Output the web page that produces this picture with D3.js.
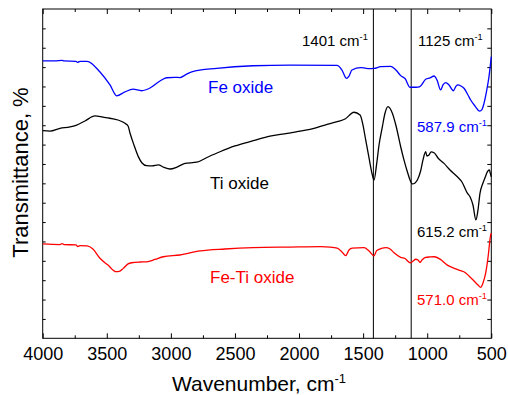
<!DOCTYPE html>
<html>
<head>
<meta charset="utf-8">
<script src="https://cdn.jsdelivr.net/npm/d3@7"></script>
<style>
  body { margin: 0; background: #fff; }
  text { font-family: "Liberation Sans", Arial, sans-serif; }
</style>
</head>
<body>
<svg id="chart" width="508" height="395"></svg>
<script>
// spectra: [wavenumber, transmittance (arb. units)]
const feOxide = [
  [4000, 14.32], [3904, 14.32], [3849, 14.35], [3834, 14.32], [3740, 14.30], [3728, 14.24],
  [3709, 14.30], [3654, 14.30], [3553, 13.75], [3475, 13.08], [3423, 12.52], [3358, 12.72],
  [3295, 12.86], [3228, 12.78], [3163, 12.92], [3085, 13.28], [3033, 13.45], [2968, 13.47],
  [2929, 13.46], [2890, 13.59], [2837, 13.76], [2642, 13.94], [2359, 14.07], [2071, 14.10],
  [1704, 14.09], [1665, 13.85], [1631, 13.42], [1610, 13.54], [1587, 13.85], [1519, 13.97],
  [1486, 13.95], [1454, 13.92], [1415, 13.93], [1363, 14.02], [1285, 14.04], [1244, 13.85],
  [1207, 13.56], [1173, 13.41], [1134, 12.96], [1103, 12.96], [1072, 12.97], [1051, 13.03],
  [1012, 13.37], [978, 13.44], [947, 13.54], [924, 13.34], [895, 12.82], [877, 13.08],
  [856, 13.20], [830, 13.08], [796, 12.78], [775, 13.02], [760, 13.08], [736, 13.02],
  [713, 12.91], [682, 12.56], [661, 12.30], [627, 11.99], [591, 11.73], [573, 11.81],
  [557, 12.13], [538, 12.72], [518, 13.51], [500, 14.54]
];
const tiOxide = [
  [4000, 10.72], [3943, 10.70], [3865, 10.84], [3787, 10.91], [3735, 11.01], [3670, 11.22],
  [3592, 11.48], [3530, 11.42], [3475, 11.36], [3413, 11.27], [3358, 11.10], [3334, 10.96],
  [3319, 10.60], [3288, 9.98], [3254, 9.38], [3225, 9.05], [3189, 8.91], [3147, 8.90],
  [3098, 8.95], [3054, 8.82], [3007, 8.74], [2952, 8.84], [2890, 9.03], [2798, 9.09],
  [2710, 9.36], [2617, 9.63], [2500, 9.93], [2357, 10.20], [2227, 10.44], [2092, 10.58],
  [1993, 10.70], [1883, 10.84], [1798, 11.01], [1702, 11.18], [1641, 11.32], [1571, 11.67],
  [1524, 11.53], [1501, 11.01], [1480, 10.24], [1454, 9.31], [1428, 8.43], [1415, 8.17],
  [1394, 9.03], [1376, 9.98], [1350, 10.92], [1329, 11.63], [1306, 11.96], [1272, 11.62],
  [1243, 10.96], [1207, 9.89], [1181, 9.20], [1155, 8.60], [1134, 8.17], [1116, 7.97],
  [1095, 8.02], [1077, 8.17], [1051, 8.65], [1033, 9.21], [1012, 9.63], [1002, 9.41],
  [986, 9.46], [970, 9.62], [947, 9.58], [916, 9.31], [869, 9.03], [822, 8.69],
  [765, 8.34], [729, 8.07], [687, 7.49], [666, 7.31], [643, 6.88], [620, 6.11],
  [604, 6.62], [588, 7.49], [565, 8.02], [546, 8.34], [531, 8.59], [515, 8.69],
  [508, 8.53], [500, 8.34]
];
const feTiOxide = [
  [4000, 4.87], [3865, 4.84], [3849, 4.89], [3834, 4.84], [3740, 4.82], [3728, 4.74],
  [3709, 4.78], [3654, 4.77], [3608, 4.61], [3553, 4.13], [3491, 3.78], [3428, 3.44],
  [3397, 3.47], [3371, 3.61], [3334, 3.84], [3306, 3.90], [3241, 3.94], [3189, 3.95],
  [3124, 4.07], [3059, 4.21], [2929, 4.30], [2773, 4.51], [2578, 4.61], [2357, 4.68],
  [2071, 4.71], [1831, 4.73], [1758, 4.71], [1702, 4.65], [1665, 4.46], [1636, 4.27],
  [1610, 4.56], [1585, 4.65], [1493, 4.68], [1454, 4.51], [1415, 4.26], [1396, 4.51],
  [1376, 4.59], [1324, 4.68], [1290, 4.61], [1259, 4.42], [1207, 4.18], [1173, 4.12],
  [1134, 3.90], [1110, 3.99], [1090, 4.08], [1072, 4.04], [1056, 3.92], [1041, 4.04],
  [1012, 4.18], [978, 4.20], [947, 4.21], [900, 4.09], [843, 3.78], [783, 3.60],
  [739, 3.49], [705, 3.40], [674, 3.22], [635, 2.96], [604, 2.75], [583, 2.63],
  [565, 2.85], [544, 3.36], [526, 4.15], [505, 5.33], [500, 5.44]
];

const xMajorTicks = [4000, 3500, 3000, 2500, 2000, 1500, 1000, 500];
const xMinorTicks = [3750, 3250, 2750, 2250, 1750, 1250, 750];
const yTicks = d3.range(1, 17);
const markerLines = [1420, 1125];
const markerLabels = ["1401", "1125"];
const seriesNames = ["Fe oxide", "Ti oxide", "Fe-Ti oxide"];
const peakLabels = ["587.9", "615.2", "571.0"];
const seriesColors = ["#0000ff", "#000000", "#ff0000"];

const svg = d3.select("#chart");
const margin = { left: 42.7, right: 16.7, top: 9, bottom: 56.7 };
const width = 508, height = 395;
const x = d3.scaleLinear().domain([4000, 500]).range([margin.left, width - margin.right]);
const y = d3.scaleLinear().domain([0, 17]).range([height - margin.bottom, margin.top]);

// axes (ticks inward)
const bottomMajor = d3.axisBottom(x).tickValues(xMajorTicks).tickSize(-5).tickPadding(9).tickFormat(d3.format("d"));
const bottomMinor = d3.axisBottom(x).tickValues(xMinorTicks).tickSize(-3).tickFormat("");
const topMajor = d3.axisTop(x).tickValues(xMajorTicks).tickSize(-5).tickFormat("");
const topMinor = d3.axisTop(x).tickValues(xMinorTicks).tickSize(-3).tickFormat("");
const leftAxis = d3.axisLeft(y).tickValues(yTicks).tickSize(-3).tickFormat("");
const rightAxis = d3.axisRight(y).tickValues(yTicks).tickSize(-4).tickFormat("");

let gB = svg.append("g").attr("transform", `translate(0,${y(0)})`).call(bottomMajor);
svg.append("g").attr("transform", `translate(0,${y(0)})`).call(bottomMinor);
svg.append("g").attr("transform", `translate(0,${y(17)})`).call(topMajor);
svg.append("g").attr("transform", `translate(0,${y(17)})`).call(topMinor);
svg.append("g").attr("transform", `translate(${x(4000)},0)`).call(leftAxis);
svg.append("g").attr("transform", `translate(${x(500)},0)`).call(rightAxis);
svg.selectAll(".domain").remove();
svg.selectAll(".tick line").attr("stroke", "#000").attr("stroke-width", 1);
gB.selectAll(".tick text")
    .attr("font-size", 18)
    .attr("fill", "#000")
    .attr("font-family", "'Liberation Sans', Arial, sans-serif");

// frame
svg.append("rect")
    .attr("x", x(4000)).attr("y", y(17))
    .attr("width", x(500) - x(4000)).attr("height", y(0) - y(17))
    .attr("fill", "none").attr("stroke", "#000").attr("stroke-width", 1);

// marker lines
svg.selectAll(".marker").data(markerLines).enter().append("line")
    .attr("class", "marker")
    .attr("x1", d => x(d)).attr("x2", d => x(d))
    .attr("y1", y(17)).attr("y2", y(0))
    .attr("stroke", "#000").attr("stroke-width", 1);

// spectra
const line = d3.line().x(d => x(d[0])).y(d => y(d[1])).curve(d3.curveMonotoneX);
[feOxide, tiOxide, feTiOxide].forEach(function(s, i) {
    svg.append("path").datum(s)
        .attr("d", line)
        .attr("fill", "none")
        .attr("stroke", seriesColors[i])
        .attr("stroke-width", 1.3)
        .attr("stroke-linejoin", "round");
});

function cmLabel(px, py, num, color, size) {
    let t = svg.append("text").attr("x", px).attr("y", py)
        .attr("font-size", size).attr("fill", color);
    t.append("tspan").text(num + " cm");
    t.append("tspan").attr("font-size", size * 0.62).attr("dy", -6).text("-1");
}

// band labels
cmLabel(302, 46, markerLabels[0], "#000", 15);
cmLabel(418, 46, markerLabels[1], "#000", 15);

// series and peak labels
const nameY = [93, 188.5, 282.5];
const nameX = [208, 210, 210];
const peakY = [132, 237, 305];
seriesNames.forEach(function(n, i) {
    svg.append("text").attr("x", nameX[i]).attr("y", nameY[i])
        .attr("font-size", 17).attr("fill", seriesColors[i]).text(n);
    cmLabel(417, peakY[i], peakLabels[i], seriesColors[i], 15);
});

// axis titles
let xt = svg.append("text").attr("x", 259).attr("y", 391)
    .attr("text-anchor", "middle").attr("font-size", 21).attr("fill", "#000");
xt.append("tspan").text("Wavenumber, cm");
xt.append("tspan").attr("font-size", 13).attr("dy", -8).text("-1");

svg.append("text")
    .attr("transform", "translate(28,172.5) rotate(-90)")
    .attr("text-anchor", "middle").attr("font-size", 22).attr("fill", "#000")
    .text("Transmittance, %");
</script>
</body>
</html>
